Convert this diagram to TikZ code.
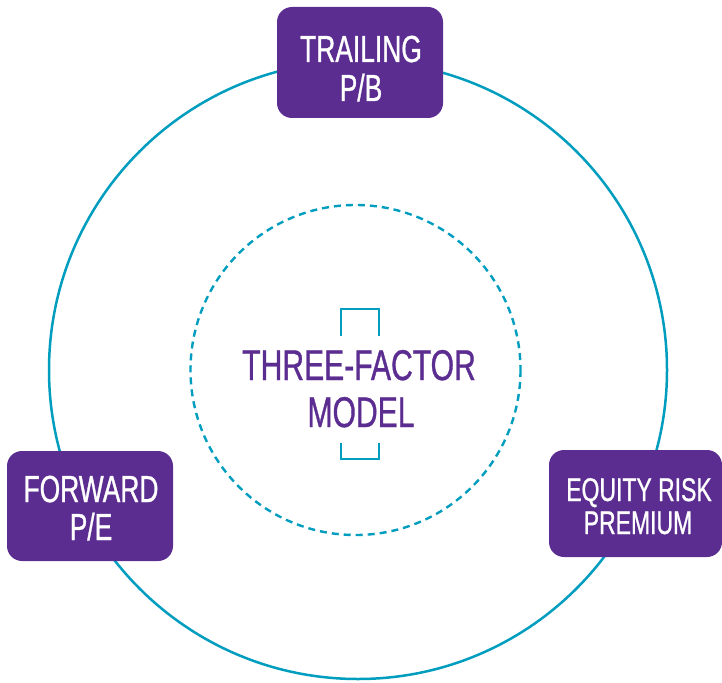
\documentclass[tikz,border=0pt]{standalone}
\usepackage{fontspec}
\setmainfont[FakeStretch=0.7,FakeBold=0.8]{Liberation Sans}
\definecolor{teal1}{RGB}{0,157,190}
\definecolor{purp}{RGB}{92,45,145}
\tikzset{
  ring/.style={draw=teal1, line width=2.5pt},
  dring/.style={draw=teal1, line width=2.4pt, dash pattern=on 7pt off 5pt},
  pbox/.style={fill=purp, rounded corners=15pt, inner sep=0pt},
  btxt/.style={text=white, anchor=base, inner sep=0pt},
  ctxt/.style={text=purp, anchor=base, inner sep=0pt, font=\fontsize{43}{47}\selectfont},
  brk/.style={draw=teal1, line width=1.5pt},
}
\begin{document}
\begin{tikzpicture}[x=1pt,y=-1pt]
\useasboundingbox (0,0) rectangle (722,682);
\draw[ring] (358,370) circle[radius=309];
\draw[dring] (355.5,370) circle[radius=165];
% boxes
\node[pbox, minimum width=166pt, minimum height=111pt] (top) at (360,62.5) {};
\node[pbox, minimum width=166pt, minimum height=110pt] (left) at (90,506) {};
\node[pbox, minimum width=173pt, minimum height=107pt] (right) at (635.5,503.5) {};
% box texts
\node[btxt, font=\fontsize{37.7}{41}\selectfont] (t1) at (361,62) {TRAILING};
\node[btxt, font=\fontsize{37.7}{41}\selectfont] (t2) at (361,101) {P/B};
\node[btxt, font=\fontsize{37.7}{41}\selectfont] (l1) at (91,502) {FORWARD};
\node[btxt, font=\fontsize{37.7}{41}\selectfont] (l2) at (91,540) {P/E};
\node[btxt, font=\fontsize{32.8}{34}\selectfont] (r1) at (639,501) {EQUITY RISK};
\node[btxt, font=\fontsize{32.8}{34}\selectfont] (r2) at (638,534) {PREMIUM};
% center
\node[ctxt] (c1) at (359,380) {THREE-FACTOR};
\node[ctxt] (c2) at (361,427) {MODEL};
% brackets
\coordinate (b1) at (341,336); \coordinate (b2) at (341,309);
\coordinate (b3) at (379,309); \coordinate (b4) at (379,336);
\draw[brk] (b1) -- (b2) -- (b3) -- (b4);
\coordinate (d1) at (341,443); \coordinate (d2) at (341,459);
\coordinate (d3) at (379,459); \coordinate (d4) at (379,443);
\draw[brk] (d1) -- (d2) -- (d3) -- (d4);
\end{tikzpicture}
\end{document}
